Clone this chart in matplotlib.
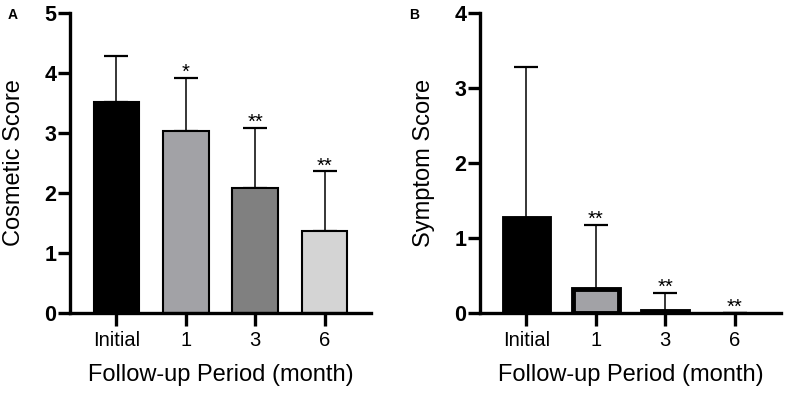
import matplotlib.pyplot as plt

plt.rcParams['font.family'] = ['Liberation Sans', 'DejaVu Sans']

periods = ['Initial', '1', '3', '6']

cosmetic_means = [3.52, 3.04, 2.08, 1.37]
cosmetic_sd = [0.76, 0.88, 1.01, 0.99]
cosmetic_stars = ['', '*', '**', '**']
cosmetic_colors = ['#000000', '#a2a2a6', '#808080', '#d4d4d4']

symptom_means = [1.27, 0.33, 0.03, 0.0]
symptom_sd = [2.01, 0.85, 0.24, 0.0]
symptom_stars = ['', '**', '**', '**']
symptom_colors = ['#000000', '#a2a2a6', '#000000', '#000000']

dpi = 100
fig = plt.figure(figsize=(785 / dpi, 396 / dpi), dpi=dpi)
axA = fig.add_axes([0.0892, 0.2088, 0.3834, 0.759])
axB = fig.add_axes([0.6115, 0.2088, 0.3834, 0.759])


def panel(ax, means, sd, stars, colors, edge_lw, ymax, ylabel, letter, lx):
    x = list(range(len(means)))
    # no outline for empty bars
    lws = [edge_lw if m > 0 else 0 for m in means]
    ax.bar(x, means, width=0.66, color=colors, edgecolor='black',
           linewidth=lws, zorder=2)
    ax.errorbar(x, means, yerr=[[0] * len(sd), sd], fmt='none',
                ecolor='black', elinewidth=1.1, capsize=8.3, capthick=1.6,
                zorder=1)
    for xi, m, s, st in zip(x, means, sd, stars):
        if st:
            ax.annotate(st, (xi, m + s), xytext=(0, 0),
                        textcoords='offset points', ha='center',
                        va='baseline', fontsize=14.5)
    ax.set_xlim(-0.67, 3.67)
    ax.set_ylim(0, ymax)
    ax.set_yticks(range(ymax + 1))
    ax.set_xticks(x)
    ax.set_xticklabels(periods, fontsize=14.5)
    for lab in ax.get_yticklabels():
        lab.set_fontweight('bold')
        lab.set_fontsize(15.5)
    ax.tick_params(axis='both', width=2.4, length=9, direction='out')
    ax.tick_params(axis='y', pad=1)
    ax.tick_params(axis='x', pad=4)
    for side in ['top', 'right']:
        ax.spines[side].set_visible(False)
    for side in ['left', 'bottom']:
        ax.spines[side].set_linewidth(2.4)
    ax.set_ylabel(ylabel, fontsize=17)
    ax.yaxis.set_label_coords(-0.15, 0.5)
    ax.set_xlabel('Follow-up Period (month)', fontsize=17, labelpad=10)
    fig.text(lx, 0.962, letter, fontsize=10, fontweight='bold',
             ha='center', va='center')


panel(axA, cosmetic_means, cosmetic_sd, cosmetic_stars, cosmetic_colors,
      1.5, 5, 'Cosmetic Score', 'A', 0.0166)
panel(axB, symptom_means, symptom_sd, symptom_stars, symptom_colors,
      3.5, 4, 'Symptom Score', 'B', 0.527)

fig.savefig('out.png', dpi=dpi)
